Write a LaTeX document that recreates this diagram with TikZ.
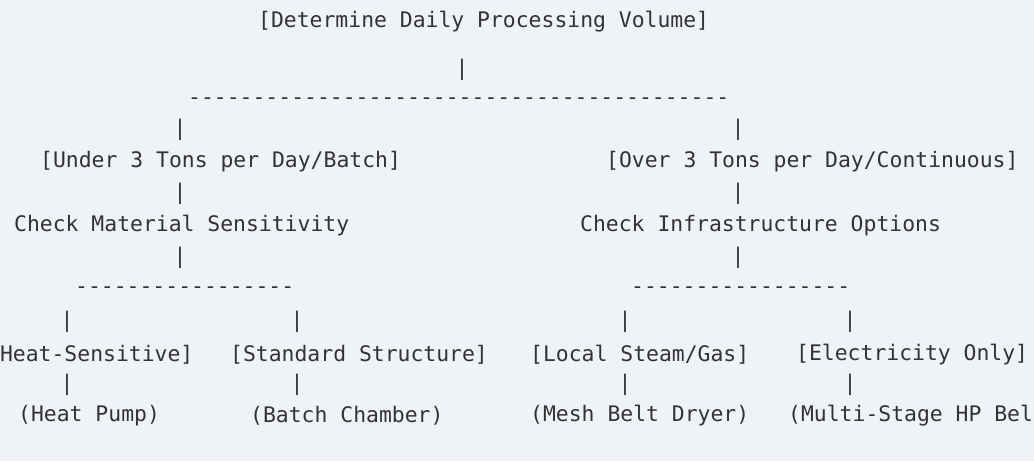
\documentclass[tikz,border=0pt]{standalone}
\usepackage{fontspec}
\setmonofont{DejaVu Sans Mono}
\definecolor{bgcol}{HTML}{EFF2F7}
\definecolor{txtcol}{HTML}{333333}
\tikzset{
  txt/.style={anchor=west, inner sep=0pt, text=txtcol, font=\ttfamily\fontsize{21.4pt}{21.4pt}\selectfont},
  bar/.style={txt, anchor=center}
}
\begin{document}
\begin{tikzpicture}[x=1pt,y=-1pt]
  \fill[bgcol] (0,0) rectangle (1034,461);
  \useasboundingbox (0,0) rectangle (1034,461);
  % top
  \node [txt] (root) at (258,22) {[Determine Daily Processing Volume]};
  \node [bar] (b1) at (462,70) {|};
  \node [txt] (d1) at (188,101) {------------------------------------------};
  % two branches
  \foreach \y in {130,194,258} {
    \node [bar] at (180,\y) {|};
    \node [bar] at (738,\y) {|};
  }
  \node [txt] (under) at (40,162) {[Under 3 Tons per Day/Batch]};
  \node [txt] (over) at (606,162) {[Over 3 Tons per Day/Continuous]};
  \node [txt] (mat) at (14,226) {Check Material Sensitivity};
  \node [txt] (infra) at (580,226) {Check Infrastructure Options};
  % leaves
  \node [txt] (d2) at (75,290) {-----------------};
  \node [txt] (d3) at (631,290) {-----------------};
  \foreach \x in {67,297,625,850} {
    \node [bar] at (\x,322) {|};
    \node [bar] at (\x,385) {|};
  }
  \node [txt] (heat) at (-13,355) {[Heat-Sensitive]};
  \node [txt] (std) at (230,355) {[Standard Structure]};
  \node [txt] (local) at (530,355) {[Local Steam/Gas]};
  \node [txt] (elec) at (796,355) {[Electricity Only]};
  \node [txt] (hp) at (18,416) {(Heat Pump)};
  \node [txt] (batch) at (250,416) {(Batch Chamber)};
  \node [txt] (mesh) at (530,416) {(Mesh Belt Dryer)};
  \node [txt] (multi) at (788,416) {(Multi-Stage HP Belt};
\end{tikzpicture}
\end{document}
